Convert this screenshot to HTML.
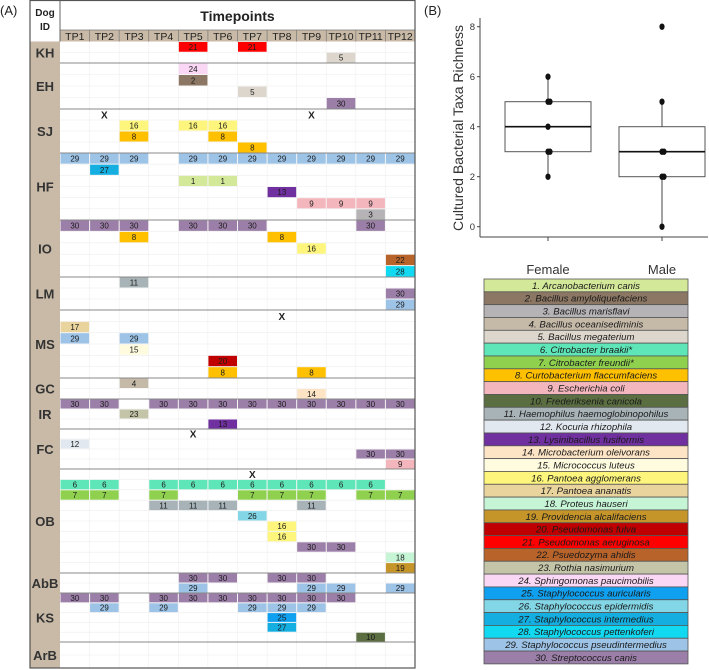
<!DOCTYPE html>
<html><head><meta charset="utf-8"><style>
body{margin:0;background:#fff;}
svg{display:block;font-family:"Liberation Sans",sans-serif;}
</style></head><body>
<svg id="fig" width="709" height="670" viewBox="0 0 709 670"></svg>
<script>
// ---- data ----
const timepoints = ["TP1","TP2","TP3","TP4","TP5","TP6","TP7","TP8","TP9","TP10","TP11","TP12"];
const dogIds = ["KH","EH","SJ","HF","IO","LM","MS","GC","IR","FC","OB","AbB","KS","ArB"];
const dogRows = {
 KH:[[21,[5,7]],[5,[10]]],
 EH:[[24,[5]],[2,[5]],[5,[7]],[30,[10]]],
 SJ:[["X",[2,9]],[16,[3,5,6]],[8,[3,6]],[8,[7]]],
 HF:[[29,[1,2,3,5,6,7,8,9,10,11,12]],[27,[2]],[1,[5,6]],[13,[8]],[9,[9,10,11]],[3,[11]]],
 IO:[[30,[1,2,3,5,6,7,11]],[8,[3,8]],[16,[9]],[22,[12]],[28,[12]]],
 LM:[[11,[3]],[30,[12]],[29,[12]]],
 MS:[["X",[8]],[17,[1]],[29,[1,3]],[15,[3]],[20,[6]],[8,[6,9]]],
 GC:[[4,[3]],[14,[9]]],
 IR:[[30,[1,2,4,5,6,7,8,9,10,11,12]],[23,[3]],[13,[6]]],
 FC:[["X",[5]],[12,[1]],[30,[11,12]],[9,[12]]],
 OB:[["X",[7]],[6,[1,2,4,5,6,7,8,9,10,11]],[7,[1,2,4,7,8,9,11,12]],[11,[4,5,6,9]],[26,[7]],[16,[8]],[16,[8]],[30,[9,10]],[18,[12]],[19,[12]]],
 AbB:[[30,[5,6,8,9]],[29,[5,9,10,12]]],
 KS:[[30,[1,2,4,5,6,7,8,9,10]],[29,[2,4,7,8,9]],[25,[8]],[27,[8]],[10,[11]]],
 ArB:[[null,[]],[null,[]]]
};
const taxaNames = ["Arcanobacterium canis","Bacillus amyloliquefaciens","Bacillus marisflavi","Bacillus oceanisediminis","Bacillus megaterium","Citrobacter braakii*","Citrobacter freundii*","Curtobacterium flaccumfaciens","Escherichia coli","Frederiksenia canicola","Haemophilus haemoglobinopohilus","Kocuria rhizophila","Lysinibacillus fusiformis","Microbacterium oleivorans","Micrococcus luteus","Pantoea agglomerans","Pantoea ananatis","Proteus hauseri","Providencia alcalifaciens","Pseudomonas fulva","Pseudomonas aeruginosa","Psuedozyma ahidis","Rothia nasimurium","Sphingomonas paucimobilis","Staphylococcus auricularis","Staphylococcus epidermidis","Staphylococcus intermedius","Staphylococcus pettenkoferi","Staphylococcus pseudintermedius","Streptococcus canis"];
const taxaColors = ["#d4e89a","#8b7763","#b5b3b5","#c5b9a8","#ddd6cc","#5fe6b8","#8fd14f","#ffc000","#f4b6bd","#5b6e41","#a8b3b8","#e2e8ef","#7030a0","#fde4c4","#fefbdf","#fdf57c","#ead49e","#c6f5d6","#c5952a","#c00000","#ff0000","#b8632a","#c4c5a8","#fad7f5","#0fa0f0","#82d6e6","#14aee0","#11d9f2","#9dc3e6","#9c7fa8"];
const groups = ["Female","Male"];
const femaleValues = [6,5,5,4,3,3,2];
const maleValues = [8,5,3,3,2,2,0];
const femaleBox = [2,3,4,5,6]; // whiskerLow, q1, median, q3, whiskerHigh
const maleBox = [0,2,3,4,5];
const yTicks = [0,2,4,6,8];

// ---- layout ----
const NS="http://www.w3.org/2000/svg";
const svg=document.getElementById('fig');
function el(tag,attrs,parent,text){const e=document.createElementNS(NS,tag);for(const k in attrs)e.setAttribute(k,attrs[k]);if(text!==undefined)e.textContent=text;(parent||svg).appendChild(e);return e;}
const tan="#c8baa7";
const L=30,R=415,idW=30,gx0=60,colW=(R-gx0)/12,hdrH=30,bodyTop=41.5,bodyBot=668;
const groupBounds=[41.5,63,109,153,220,277,310,378,399,429,469,573,593,642,668];

const panelA=el('g',{},svg);


const lblA=el('text',{x:0,y:15,'font-size':13,fill:'#222'},svg,'(A)');

const lblB=el('text',{x:424,y:15,'font-size':13,fill:'#222'},svg,'(B)');


el('rect',{x:L,y:0,width:R-L,height:bodyBot,fill:'#fff'},panelA);
el('rect',{x:L,y:bodyTop,width:idW,height:bodyBot-bodyTop,fill:tan},panelA);
el('rect',{x:gx0,y:hdrH,width:R-gx0,height:bodyTop-hdrH,fill:tan},panelA);
const dh=el('text',{x:L+idW/2,y:16,'font-size':10,'font-weight':'bold','text-anchor':'middle',fill:'#222'},panelA,'Dog');

el('text',{x:L+idW/2,y:30,'font-size':10,'font-weight':'bold','text-anchor':'middle',fill:'#222'},panelA,'ID');
const th=el('text',{x:(gx0+R)/2,y:21,'font-size':14,'font-weight':'bold','text-anchor':'middle',fill:'#222'},panelA,'Timepoints');

timepoints.forEach((t,i)=>{
  const tx=el('text',{x:gx0+colW*(i+0.5),y:40,'font-size':10.5,'text-anchor':'middle',fill:'#222'},panelA,t);
  
  
  if(i>0) el('line',{x1:gx0+colW*i,y1:hdrH,x2:gx0+colW*i,y2:bodyTop,stroke:'#777','stroke-width':0.7},panelA);
});
el('line',{x1:gx0,y1:hdrH,x2:R,y2:hdrH,stroke:'#777','stroke-width':0.7},panelA);

dogIds.forEach((d,gi)=>{
  const rows=dogRows[d];const top=groupBounds[gi],bot=groupBounds[gi+1];const rh=(bot-top)/rows.length;
  for(let r=1;r<rows.length;r++) el('line',{x1:gx0,y1:top+r*rh,x2:R,y2:top+r*rh,stroke:'#eee','stroke-width':0.6},panelA);
  for(let c=1;c<12;c++) el('line',{x1:gx0+c*colW,y1:top,x2:gx0+c*colW,y2:bot,stroke:'#eee','stroke-width':0.6},panelA);
  const lab=el('text',{x:L+idW/2,y:(top+bot)/2+5,'font-size':13,'font-weight':'bold','text-anchor':'middle',fill:'#333'},panelA,d);
  
  
  rows.forEach((row,ri)=>{
    const [tax,tps]=row;const y=top+ri*rh;
    tps.forEach(tp=>{
      const x=gx0+(tp-1)*colW;
      if(tax==="X"){
        const xt=el('text',{x:x+colW/2,y:y+rh-1.5,'font-size':10,'font-weight':'bold','text-anchor':'middle',fill:'#222'},panelA,'X');
        
        
      } else {
        const g=el('g',{},panelA);
        
        
        el('rect',{x:x+0.5,y:y+0.5,width:colW-1,height:rh-1,fill:taxaColors[tax-1]},g);
        el('text',{x:x+colW/2,y:y+rh/2+3,'font-size':8,'text-anchor':'middle',fill:'#1a1a1a'},g,String(tax));
      }
    });
  });
  if(gi>0) el('line',{x1:L+idW,y1:top,x2:R,y2:top,stroke:'#888','stroke-width':1},panelA);
});
el('line',{x1:L+idW,y1:0,x2:L+idW,y2:bodyTop,stroke:'#666','stroke-width':1},panelA);
el('rect',{x:L,y:0.5,width:R-L,height:bodyBot-0.5,fill:'none',stroke:'#555','stroke-width':1.2},panelA);

// ---- panel B box plot ----
const pB=el('g',{},svg);


const ax0=480,ax1=708,ay=237;
const yS=v=>226.7-v*25;
const gxPos=[548,662];
el('line',{x1:ax0,y1:18,x2:ax0,y2:ay,stroke:'#444','stroke-width':1},pB);
el('line',{x1:ax0,y1:ay,x2:ax1,y2:ay,stroke:'#444','stroke-width':1},pB);
yTicks.forEach(t=>{
  el('line',{x1:ax0-3,y1:yS(t),x2:ax0,y2:yS(t),stroke:'#444'},pB);
  const tl=el('text',{x:ax0-5,y:yS(t)+3.5,'font-size':9.5,'text-anchor':'end',fill:'#333'},pB,String(t));
  
  
});
const yt=el('text',{x:0,y:0,'font-size':14,'text-anchor':'middle',fill:'#333',transform:'translate(463,128) rotate(-90)'},pB,'Cultured Bacterial Taxa Richness');

const boxes=[femaleBox,maleBox],vals=[femaleValues,maleValues],bw=86;
groups.forEach((g,i)=>{
  const cx=gxPos[i],b=boxes[i];
  el('line',{x1:cx,y1:ay,x2:cx,y2:ay+4,stroke:'#444'},pB);
  const gl=el('text',{x:cx,y:274,'font-size':13,'text-anchor':'middle',fill:'#333'},pB,g);
  
  
  el('line',{x1:cx,y1:yS(b[0]),x2:cx,y2:yS(b[4]),stroke:'#444','stroke-width':1},pB);
  const bx=el('rect',{x:cx-bw/2,y:yS(b[3]),width:bw,height:yS(b[1])-yS(b[3]),fill:'#fff',stroke:'#555','stroke-width':1},pB);
  
  
  el('line',{x1:cx-bw/2,y1:yS(b[2]),x2:cx+bw/2,y2:yS(b[2]),stroke:'#111','stroke-width':1.6},pB);
  el('line',{x1:cx,y1:yS(b[0]),x2:cx,y2:yS(b[1]),stroke:'#444'},pB);
  el('line',{x1:cx,y1:yS(b[3]),x2:cx,y2:yS(b[4]),stroke:'#444'},pB);
  const seen={};
  vals[i].forEach(v=>{
    const n=seen[v]||0;seen[v]=n+1;
    const pt=el('ellipse',{cx:cx+n*2,cy:yS(v),rx:2.6,ry:3.2,fill:'#111'},pB);
    
    
  });
});

// ---- legend ----
const lg=el('g',{},svg);


const lx=484,lw=204,ly=279,lh=12.83;
taxaNames.forEach((n,i)=>{
  const g=el('g',{},lg);
  
  
  el('rect',{x:lx,y:ly+i*lh,width:lw,height:lh,fill:taxaColors[i],stroke:'#555','stroke-width':0.8},g);
  el('text',{x:lx+lw/2,y:ly+i*lh+lh/2+3.4,'font-size':9.6,'font-style':'italic','text-anchor':'middle',fill:'#1a1a1a'},g,(i+1)+'. '+n);
});
</script>
</body></html>
